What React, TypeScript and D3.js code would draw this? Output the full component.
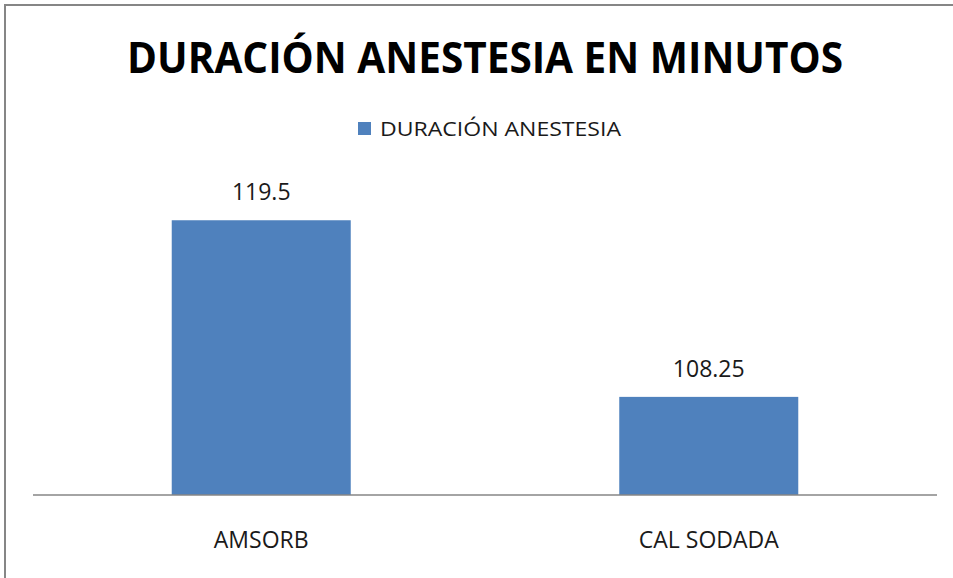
import * as d3 from "d3";

const WIDTH = 953;
const HEIGHT = 578;
const PLOT = { left: 33, right: 937, top: 181, bottom: 495 };

const TITLE = "DURACIÓN ANESTESIA EN MINUTOS";
const SERIES_NAME = "DURACIÓN ANESTESIA";
const CATEGORIES = ["AMSORB", "CAL SODADA"];
const VALUES = [119.5, 108.25];
const Y_DOMAIN = [102, 122];

const BAR_COLOR = "#4F81BD";
const FONT = "'Open Sans', 'Noto Sans', sans-serif";

export default function App() {
  const x = d3
    .scaleBand<string>()
    .domain(CATEGORIES)
    .range([PLOT.left, PLOT.right])
    .paddingInner(0.6)
    .paddingOuter(0.31);

  const y = d3.scaleLinear().domain(Y_DOMAIN).range([PLOT.bottom, PLOT.top]);

  const bars = CATEGORIES.map((cat, i) => ({ cat, value: VALUES[i] }));

  return (
    <svg
      width={WIDTH}
      height={HEIGHT}
      style={{ position: "absolute", left: 0, top: 0, background: "#fff" }}
    >
      <rect x={5} y={5} width={WIDTH + 10} height={HEIGHT + 10} fill="#fff" stroke="#868686" strokeWidth={2} />

      <text
        x={485}
        y={73}
        textAnchor="middle"
        fontFamily={FONT}
        fontWeight="bold"
        fontSize={43}
        fill="#000"
        textLength={716}
        lengthAdjust="spacingAndGlyphs"
      >
        {TITLE}
      </text>

      <rect x={358} y={122} width={13} height={13} fill={BAR_COLOR} />
      <text
        x={380}
        y={136}
        fontFamily={FONT}
        fontSize={20}
        fill="#1a1a1a"
        textLength={241}
        lengthAdjust="spacingAndGlyphs"
      >
        {SERIES_NAME}
      </text>

      {bars.map((d) => {
        const cx = (x(d.cat) ?? 0) + x.bandwidth() / 2;
        return (
          <g key={d.cat}>
            <rect
              x={x(d.cat)}
              y={y(d.value)}
              width={x.bandwidth()}
              height={PLOT.bottom - y(d.value)}
              fill={BAR_COLOR}
            />
            <text x={cx} y={y(d.value) - 20} textAnchor="middle" fontFamily={FONT} fontSize={23} fill="#1a1a1a">
              {d.value}
            </text>
            <text x={cx} y={548} textAnchor="middle" fontFamily={FONT} fontSize={23} fill="#1a1a1a">
              {d.cat}
            </text>
          </g>
        );
      })}

      <line x1={PLOT.left} x2={PLOT.right} y1={PLOT.bottom} y2={PLOT.bottom} stroke="#868686" strokeWidth={1.5} />
    </svg>
  );
}
